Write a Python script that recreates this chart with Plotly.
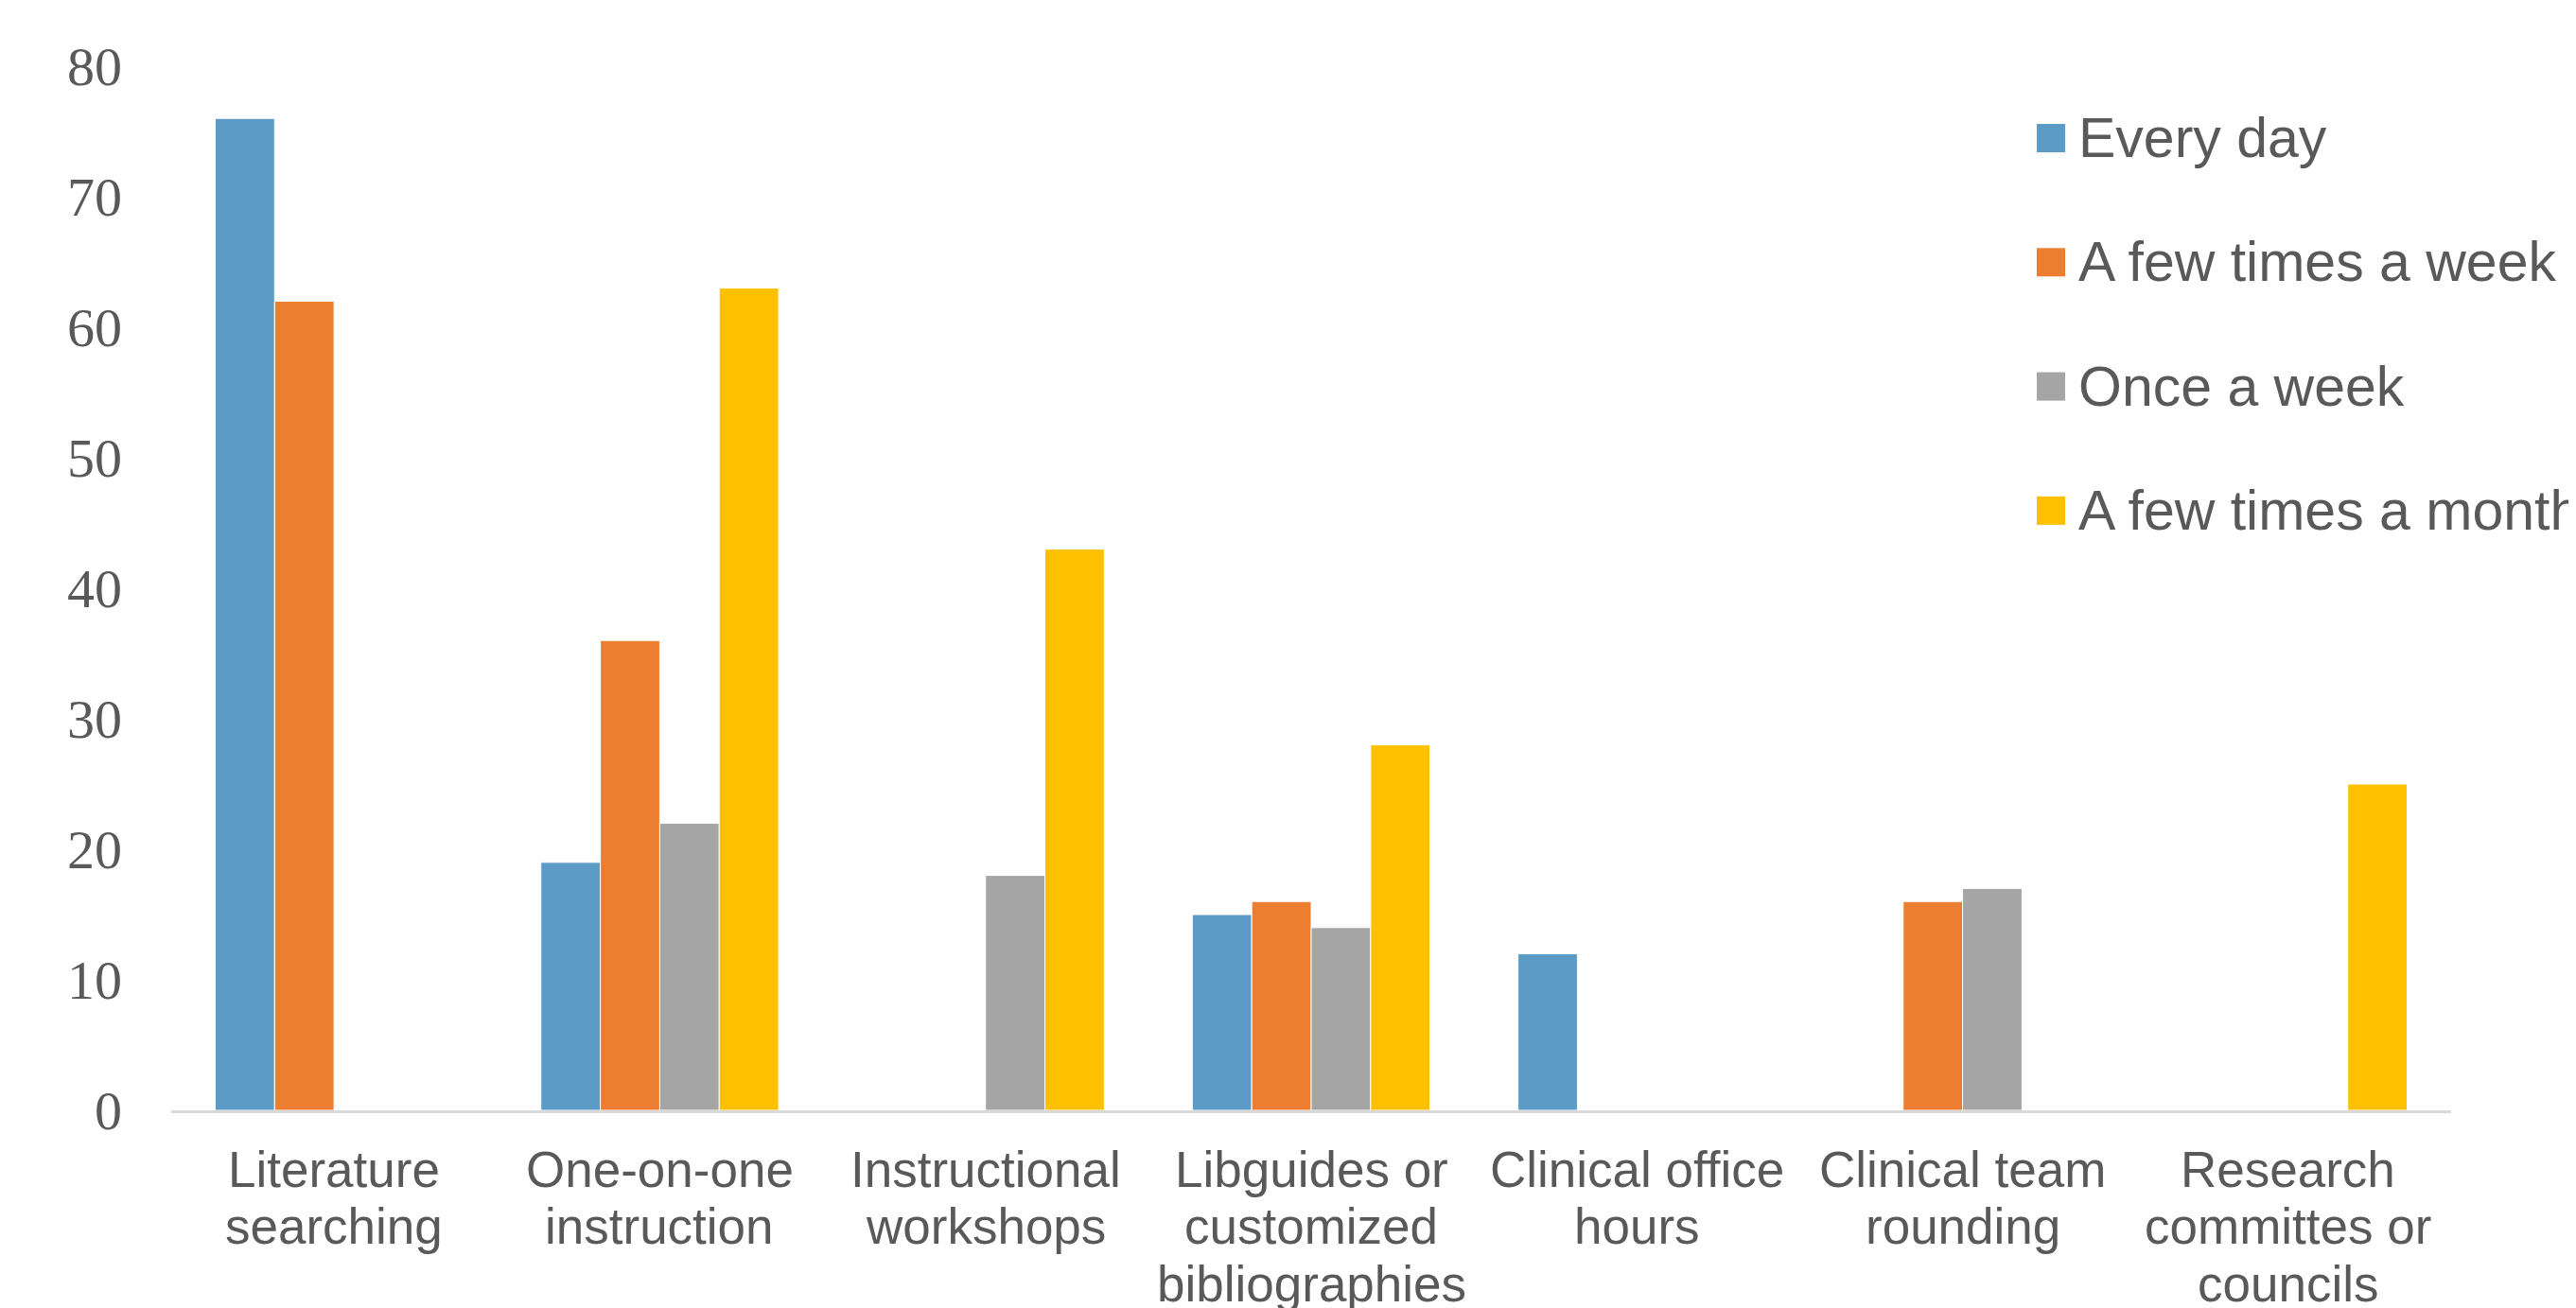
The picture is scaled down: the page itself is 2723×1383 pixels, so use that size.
import plotly.graph_objects as go

categories = [
    "Literature searching",
    "One-on-one instruction",
    "Instructional workshops",
    "Libguides or customized bibliographies",
    "Clinical office hours",
    "Clinical team rounding",
    "Research committes or councils",
]
# how each category label wraps in the original
category_lines = [
    ["Literature", "searching"],
    ["One-on-one", "instruction"],
    ["Instructional", "workshops"],
    ["Libguides or", "customized", "bibliographies"],
    ["Clinical office", "hours"],
    ["Clinical team", "rounding"],
    ["Research", "committes or", "councils"],
]
series_names = ["Every day", "A few times a week", "Once a week", "A few times a month"]
every_day = [76, 19, None, 15, 12, None, None]
few_week = [62, 36, None, 16, None, 16, None]
once_week = [None, 22, 18, 14, None, 17, None]
few_month = [None, 63, 43, 28, None, None, 25]
series_values = [every_day, few_week, once_week, few_month]
colors = ["#5B9BC5", "#ED7D31", "#A5A5A5", "#FFC000"]
y_ticks = [0, 10, 20, 30, 40, 50, 60, 70, 80]

# page body has an 8px margin; compensate so the plot lands where the original is
OFF = 8
W, H = 2723 - OFF, 1383 - OFF
PW, PH = 2410, 1104
ML, MT = 181 - OFF, 70 - OFF
MR, MB = W - ML - PW, H - MT - PH
TEXT = "#595959"
SANS = "Liberation Sans, Arial"

fig = go.Figure()
for name, vals, col in zip(series_names, series_values, colors):
    fig.add_trace(go.Bar(
        x=categories, y=vals, name=name, showlegend=False,
        marker=dict(color=col, line=dict(color="white", width=1)),
    ))

# Category labels, one text line at a time (original uses tight line spacing)
first_line = 62   # px below the axis line
line_gap = 60.7
for cat, lines in zip(categories, category_lines):
    for j, ln in enumerate(lines):
        fig.add_annotation(xref="x", yref="paper", x=cat,
                           y=-(first_line + j * line_gap) / PH,
                           xanchor="center", yanchor="middle", showarrow=False,
                           text=ln, font=dict(family=SANS, size=53, color=TEXT))

# Manual legend (large square swatches like the original), page pixel positions
leg_x0 = 2153 - OFF
leg_y0 = 146 - OFF
leg_dy = 131.3
sq = 30
for i, (name, col) in enumerate(zip(series_names, colors)):
    cy = leg_y0 + i * leg_dy
    fig.add_shape(type="rect", xref="paper", yref="paper",
                  x0=(leg_x0 - ML) / PW, x1=(leg_x0 + sq - ML) / PW,
                  y0=(MT + PH - (cy + sq / 2)) / PH, y1=(MT + PH - (cy - sq / 2)) / PH,
                  fillcolor=col, line=dict(width=0))
    fig.add_annotation(xref="paper", yref="paper",
                       x=(leg_x0 + sq + 12 - ML) / PW, y=(MT + PH - cy) / PH,
                       xanchor="left", yanchor="middle", showarrow=False,
                       text=name, font=dict(family=SANS, size=59, color=TEXT))

fig.update_layout(
    width=W, height=H,
    margin=dict(l=ML, r=MR, t=MT, b=MB, autoexpand=False),
    paper_bgcolor="white", plot_bgcolor="white",
    barmode="group", bargap=0.27, bargroupgap=0,
    showlegend=False,
)
fig.update_xaxes(
    automargin=False, showticklabels=False,
    showline=True, linecolor="#D9D9D9", linewidth=2.5,
    showgrid=False, ticks="",
)
fig.update_yaxes(
    automargin=False,
    range=[0, 80], tickvals=y_ticks, showgrid=False, showline=False,
    zeroline=False, ticks="", ticklabelstandoff=51,
    tickfont=dict(family="Liberation Serif, Times New Roman", size=58, color=TEXT),
)
fig.write_html("out.html")
